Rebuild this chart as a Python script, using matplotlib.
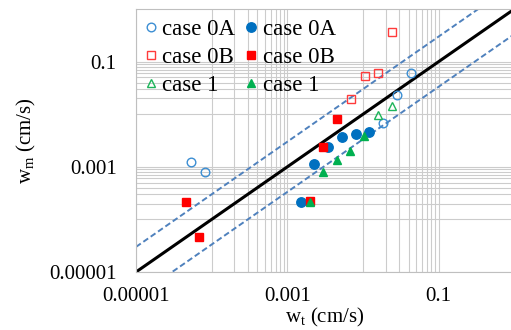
import numpy as np
import matplotlib.pyplot as plt
from matplotlib.ticker import FixedLocator, NullFormatter

plt.rcParams['font.family'] = ['Liberation Serif', 'DejaVu Serif']
plt.rcParams['mathtext.fontset'] = 'custom'
plt.rcParams['mathtext.rm'] = 'Liberation Serif'
plt.rcParams['mathtext.it'] = 'Liberation Serif:italic'

# data (wt, wm in cm/s)
open_0A_wt = [5.3e-5, 8.2e-5, 0.0185, 0.0283, 0.043]
open_0A_wm = [1.25e-3, 7.9e-4, 6.7e-3, 0.0235, 0.0607]
fill_0A_wt = [1.5e-3, 2.26e-3, 3.47e-3, 5.2e-3, 7.98e-3, 0.0121]
fill_0A_wm = [2.17e-4, 1.13e-3, 2.4e-3, 3.64e-3, 4.2e-3, 4.65e-3]

open_0B_wt = [6.85e-3, 0.0105, 0.0157, 0.0239]
open_0B_wm = [0.0192, 0.0532, 0.0615, 0.36]
fill_0B_wt = [4.57e-5, 6.9e-5, 1.97e-3, 2.95e-3, 4.52e-3]
fill_0B_wm = [2.11e-4, 4.7e-5, 2.27e-4, 2.41e-3, 8.1e-3]

open_1_wt = [0.0157, 0.0241]
open_1_wm = [9.7e-3, 0.0143]
fill_1_wt = [1.97e-3, 2.95e-3, 4.52e-3, 6.8e-3, 0.0104]
fill_1_wm = [2.11e-4, 7.96e-4, 1.35e-3, 2.02e-3, 3.86e-3]

ref_x = np.array([1e-5, 1.0])
band_factor = 3.0

major_ticks = [1e-5, 1e-3, 1e-1]
major_labels = ['0.00001', '0.001', '0.1']
minor_ticks = [k * 1e-4 for k in range(1, 10)] + [k * 1e-2 for k in range(1, 10)]

fig = plt.figure(figsize=(5.11, 3.30), dpi=100)
ax = fig.add_axes([136 / 511, 58 / 330, (514.4 - 136) / 511, (272 - 9) / 330])
ax.set_xscale('log')
ax.set_yscale('log')
ax.set_xlim(1e-5, 1)
ax.set_ylim(1e-5, 1)

ax.xaxis.set_major_locator(FixedLocator(major_ticks))
ax.yaxis.set_major_locator(FixedLocator(major_ticks))
ax.xaxis.set_minor_locator(FixedLocator(minor_ticks))
ax.yaxis.set_minor_locator(FixedLocator(minor_ticks))
ax.xaxis.set_minor_formatter(NullFormatter())
ax.yaxis.set_minor_formatter(NullFormatter())
ax.set_xticklabels(major_labels)
ax.set_yticklabels(major_labels)
ax.tick_params(which='both', length=0, labelsize=15)
ax.tick_params(axis='x', pad=11)
ax.tick_params(axis='y', pad=14)
ax.grid(True, which='both', color='#cccccc', lw=0.8)
ax.set_axisbelow(True)
for s in ax.spines.values():
    s.set_color('#bfbfbf')

# reference lines
ax.plot(ref_x, ref_x, color='black', lw=2.2, zorder=2)
dash = dict(color='#4f81bd', lw=1.4, ls=(0, (3, 1.6)), zorder=2)
ax.plot(ref_x, ref_x * band_factor, **dash)
ax.plot(ref_x, ref_x / band_factor, **dash)

ms = 6.2
ax.plot(open_0A_wt, open_0A_wm, 'o', ms=ms, mfc='none', mec='#3b8ed3', mew=1, label='case 0A', zorder=3)
ax.plot(open_0B_wt, open_0B_wm, 's', ms=ms, mfc='none', mec='#ff3b3b', mew=1, label='case 0B', zorder=3)
ax.plot(open_1_wt, open_1_wm, '^', ms=ms, mfc='none', mec='#1db45a', mew=1, label='case 1', zorder=3)
ax.plot(fill_0A_wt, fill_0A_wm, 'o', ms=ms + 0.6, color='#0070c0', label='case 0A', zorder=3)
ax.plot(fill_0B_wt, fill_0B_wm, 's', ms=ms, color='#ff0000', label='case 0B', zorder=3)
ax.plot(fill_1_wt, fill_1_wm, '^', ms=ms, color='#00b050', label='case 1', zorder=3)

ax.legend(loc='upper left', bbox_to_anchor=(-0.004, 1.0), ncol=2, frameon=False,
          fontsize=16.5, handlelength=0.5, handletextpad=0.27, labelspacing=0.3,
          columnspacing=0.45, borderaxespad=0.0, borderpad=0.45)

ax.set_xlabel(r'w$_\mathrm{t}$ (cm/s)', fontsize=15, labelpad=0)
ax.set_ylabel(r'w$_\mathrm{m}$ (cm/s)', fontsize=15, labelpad=8)

fig.savefig('out.png', dpi=100)
